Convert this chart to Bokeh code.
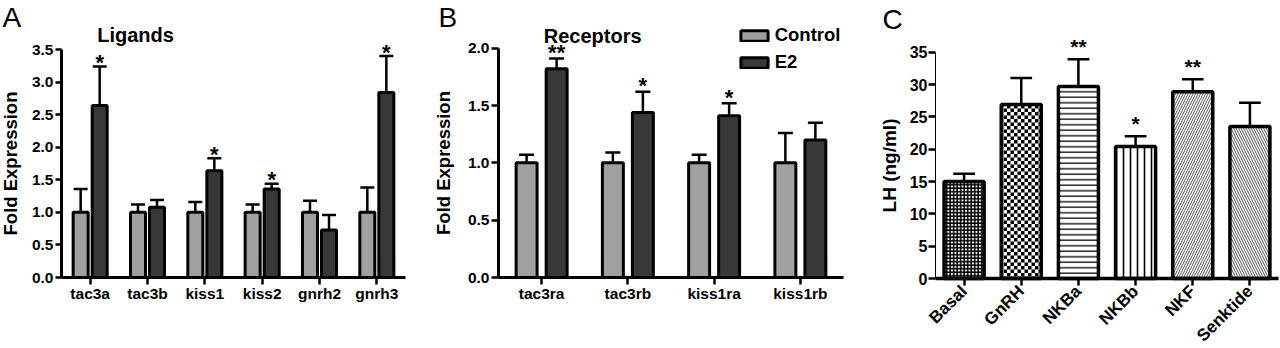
from bokeh.plotting import figure
from bokeh.layouts import row
from bokeh.models import (ColumnDataSource, Label, Legend, LegendItem, Range1d,
                          FixedTicker, NumeralTickFormatter, ImageURLTexture)
from bokeh.transform import dodge
from bokeh.core.properties import value
from bokeh.embed import file_html
from bokeh.resources import INLINE
import base64
import math

FONT = "Liberation Sans"
CTRL_COLOR = "#a0a0a0"
E2_COLOR = "#383838"
H = 348

# ---- Panel A: ligands ----
ligands = ["tac3a", "tac3b", "kiss1", "kiss2", "gnrh2", "gnrh3"]
lig_control = [1.0, 1.0, 1.0, 1.0, 1.0, 1.0]
lig_control_sem = [0.36, 0.12, 0.16, 0.12, 0.18, 0.38]
lig_e2 = [2.64, 1.08, 1.64, 1.36, 0.73, 2.84]
lig_e2_sem = [0.60, 0.11, 0.19, 0.08, 0.23, 0.56]
lig_sig = ["*", "", "*", "*", "", "*"]
lig_yticks = [0.0, 0.5, 1.0, 1.5, 2.0, 2.5, 3.0, 3.5]

# ---- Panel B: receptors ----
receptors = ["tac3ra", "tac3rb", "kiss1ra", "kiss1rb"]
rec_control = [1.0, 1.0, 1.0, 1.0]
rec_control_sem = [0.07, 0.09, 0.07, 0.26]
rec_e2 = [1.82, 1.44, 1.41, 1.20]
rec_e2_sem = [0.09, 0.18, 0.11, 0.15]
rec_sig = ["**", "*", "*", ""]
rec_yticks = [0.0, 0.5, 1.0, 1.5, 2.0]

# ---- Panel C: LH release ----
treatments = ["Basal", "GnRH", "NKBa", "NKBb", "NKF", "Senktide"]
lh = [15.0, 26.9, 29.7, 20.4, 28.9, 23.5]
lh_sem = [1.2, 4.1, 4.2, 1.6, 1.9, 3.7]
lh_sig = ["", "", "**", "*", "**", ""]
lh_yticks = [0, 5, 10, 15, 20, 25, 30, 35]
lh_hatch = ["+", "checker", "-", "|", "/", "\\"]
lh_hatch_scale = [3.5, 9, 5.5, 7, 5, 5]
lh_hatch_weight = [1.6, 3.5, 1.3, 1.6, 1.0, 1.0]
lh_hatch_color = ["black", "black", "black", "black", "#555555", "#555555"]

checker_svg = ('<svg xmlns="http://www.w3.org/2000/svg" width="7" height="7">'
               '<rect width="7" height="7" fill="white"/>'
               '<rect x="0" y="0" width="3.5" height="3.5" fill="black"/>'
               '<rect x="3.5" y="3.5" width="3.5" height="3.5" fill="black"/></svg>')
checker_url = "data:image/svg+xml;base64," + base64.b64encode(checker_svg.encode()).decode()


def make_fig(n, width, axis_px, right_px, y0_px, ytop_px, ymax):
    """Frame covers the whole figure; axes are pinned with fixed_location."""
    step = (right_px - axis_px) / n
    xs = -0.5 - axis_px / step
    xe = -0.5 + (width - axis_px) / step
    ppu = (y0_px - ytop_px) / ymax
    ys = -(H - y0_px) / ppu
    ye = y0_px / ppu
    p = figure(x_range=Range1d(xs, xe), y_range=Range1d(ys, ye),
               width=width, height=H, output_backend="svg", toolbar_location=None,
               min_border_left=0, min_border_right=0, min_border_top=0,
               min_border_bottom=0)
    p.xgrid.visible = False
    p.ygrid.visible = False
    p.outline_line_color = None
    p.background_fill_color = "white"
    p.border_fill_color = "white"
    p.yaxis.fixed_location = -0.5
    p.xaxis.fixed_location = 0
    p.yaxis.bounds = (0, ymax)
    p.xaxis.bounds = (-0.5, n - 0.5)
    for ax in (p.xaxis[0], p.yaxis[0]):
        ax.axis_line_color = "black"
        ax.major_tick_line_color = "black"
        ax.minor_tick_line_color = None
        ax.major_tick_in = 0
        ax.major_label_text_font = FONT
        ax.major_label_text_font_style = "bold"
        ax.major_label_text_color = "black"
        ax.axis_label_text_font = FONT
        ax.axis_label_text_font_style = "bold"
        ax.axis_label_text_color = "black"
    return p


def add_text(p, x, y, text, size, bold):
    # y is the canvas baseline (from top); label placement is shifted up to match
    p.add_layout(Label(x=x, y=H - y + 8, x_units="screen", y_units="screen", text=text,
                       text_font=FONT, text_font_style="bold" if bold else "normal",
                       text_font_size=size, text_color="black",
                       text_baseline="alphabetic"))


def grouped_panel(cats, ctrl, ctrl_sem, e2, e2_sem, sig, yticks, width, geom,
                  off, bw, cap, title, title_xy, letter, letter_xy, star_dy,
                  ytick_out, ylabel_standoff):
    axis_px, right_px, y0_px, ytop_px = geom
    n = len(cats)
    p = make_fig(n, width, axis_px, right_px, y0_px, ytop_px, yticks[-1])
    idx = list(range(n))
    src = ColumnDataSource(dict(
        x=idx, ctrl=ctrl, ctrl_top=[v + s for v, s in zip(ctrl, ctrl_sem)],
        e2=e2, e2_top=[v + s for v, s in zip(e2, e2_sem)], sig=sig))
    for o, v, t in ((-off, "ctrl", "ctrl_top"), (off, "e2", "e2_top")):
        p.segment(x0=dodge("x", o), y0=v, x1=dodge("x", o), y1=t,
                  source=src, line_color="black", line_width=2.5)
        p.segment(x0=dodge("x", o - cap / 2), y0=t, x1=dodge("x", o + cap / 2), y1=t,
                  source=src, line_color="black", line_width=2.5)
    rc = p.vbar(x=dodge("x", -off), top="ctrl", width=bw, source=src,
                fill_color=CTRL_COLOR, line_color="black", line_width=3)
    re = p.vbar(x=dodge("x", off), top="e2", width=bw, source=src,
                fill_color=E2_COLOR, line_color="black", line_width=3)
    p.text(x=dodge("x", off), y="e2_top", text="sig", source=src,
           text_align="center", text_baseline="alphabetic", y_offset=star_dy,
           text_font=value(FONT), text_font_style="bold", text_font_size="22px",
           text_color="black")
    p.yaxis.ticker = FixedTicker(ticks=yticks)
    p.yaxis.formatter = NumeralTickFormatter(format="0.0")
    p.yaxis.major_label_text_font_size = "15.5px"
    p.yaxis.axis_label = "Fold Expression"
    p.yaxis.axis_label_text_font_size = "18.5px"
    p.yaxis.axis_line_width = 3
    p.yaxis.major_tick_line_width = 2.5
    p.yaxis.major_tick_out = ytick_out
    p.yaxis.major_label_standoff = 2
    p.yaxis.axis_label_standoff = ylabel_standoff
    p.xaxis.ticker = FixedTicker(ticks=idx)
    p.xaxis.major_label_overrides = {i: c for i, c in zip(idx, cats)}
    p.xaxis.major_label_text_font_size = "15.5px"
    p.xaxis.axis_line_width = 3
    p.xaxis.major_tick_line_width = 2.5
    p.xaxis.major_tick_out = 7
    p.xaxis.major_label_standoff = 0
    add_text(p, title_xy[0], title_xy[1], title, "20px", True)
    add_text(p, letter_xy[0], letter_xy[1], letter, "28px", False)
    return p, rc, re


pA, _, _ = grouped_panel(ligands, lig_control, lig_control_sem, lig_e2, lig_e2_sem,
                         lig_sig, lig_yticks, 420, (61, 405, 277, 49),
                         0.166, 0.262, 0.244, "Ligands", (96.7, 42.7), "A", (2, 25),
                         -4, 6, 8)

pB, rcB, reB = grouped_panel(receptors, rec_control, rec_control_sem, rec_e2, rec_e2_sem,
                             rec_sig, rec_yticks, 440, (78, 423, 277, 47.7),
                             0.174, 0.243, 0.174, "Receptors", (123.3, 43.3), "B", (18, 25),
                             -6, 7, 11)

legend = Legend(items=[LegendItem(label="Control", renderers=[rcB]),
                       LegendItem(label="E2", renderers=[reB])],
                location=(316.7, H - 73), orientation="vertical",
                glyph_width=34, glyph_height=13, label_height=13, label_width=40,
                spacing=5, padding=0, margin=0, label_standoff=4,
                label_text_font=FONT, label_text_font_style="bold",
                label_text_font_size="18.5px", label_text_color="black",
                border_line_alpha=0, background_fill_alpha=0)
pB.add_layout(legend, "center")

# ---- Panel C ----
pC = make_fig(len(treatments), 420, 75, 418, 278, 51.7, 35)
idxC = list(range(len(treatments)))
srcC = ColumnDataSource(dict(x=idxC, lh=lh, top=[v + s for v, s in zip(lh, lh_sem)],
                             sig=lh_sig, hp=lh_hatch, hs=lh_hatch_scale, hw=lh_hatch_weight,
                             hc=lh_hatch_color))
pC.segment(x0="x", y0="lh", x1="x", y1="top", source=srcC, line_color="black", line_width=2.5)
pC.segment(x0=dodge("x", -0.19), y0="top", x1=dodge("x", 0.19), y1="top",
           source=srcC, line_color="black", line_width=2.5)
pC.vbar(x="x", top="lh", width=0.7, source=srcC, fill_color="white",
        line_color="black", line_width=3.5, hatch_pattern="hp", hatch_scale="hs",
        hatch_weight="hw", hatch_color="hc",
        hatch_extra={"checker": ImageURLTexture(url=checker_url)})
pC.text(x="x", y="top", text="sig", source=srcC, text_align="center",
        text_baseline="alphabetic", y_offset=-13, text_font=value(FONT),
        text_font_style="bold", text_font_size="21px", text_color="black")
pC.yaxis.ticker = FixedTicker(ticks=lh_yticks)
pC.yaxis.major_label_text_font_size = "16px"
pC.yaxis.axis_label = "LH (ng/ml)"
pC.yaxis.axis_label_text_font_size = "19px"
pC.yaxis.axis_line_width = 1
pC.yaxis.major_tick_line_width = 2.5
pC.yaxis.major_tick_out = 7
pC.yaxis.major_label_standoff = 1
pC.yaxis.axis_label_standoff = 7
pC.xaxis.ticker = FixedTicker(ticks=idxC)
pC.xaxis.major_label_overrides = {i: c for i, c in zip(idxC, treatments)}
pC.xaxis.major_label_text_font_size = "17px"
pC.xaxis.axis_line_width = 3.5
pC.xaxis.major_tick_line_width = 2.5
pC.xaxis.major_tick_out = 7
pC.xaxis.major_label_standoff = 3
pC.xaxis.major_label_orientation = math.pi / 4
add_text(pC, 22, 27, "C", "28px", False)

layout = row(pA, pB, pC)
open("out.html", "w").write(file_html(layout, INLINE))
